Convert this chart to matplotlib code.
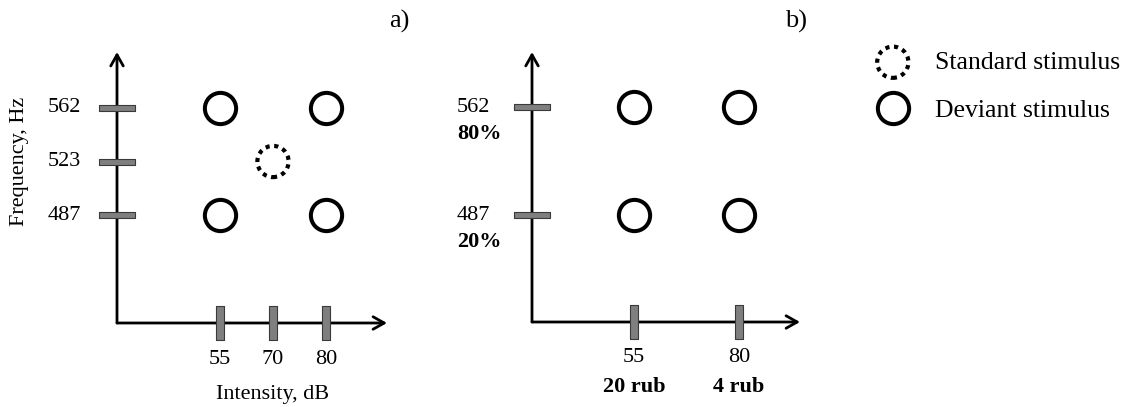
import numpy as np
import matplotlib
matplotlib.use("Agg")
import matplotlib.pyplot as plt
from matplotlib.path import Path
from matplotlib.lines import Line2D

plt.rcParams['font.family'] = ['Liberation Serif', 'DejaVu Serif']

############################## DATA

# panel a) : intensity x frequency, one standard in the middle
intensity_a = ["55", "70", "80"]
frequency_a = ["487", "523", "562"]
standard_a = [("70", "523")]
deviant_a = [("55", "487"), ("55", "562"), ("80", "487"), ("80", "562")]

# panel b) : two levels each, with price and probability under the numbers
intensity_b = ["55", "80"]
price_b = ["20 rub", "4 rub"]
frequency_b = ["487", "562"]
prob_b = ["20%", "80%"]
deviant_b = [("55", "487"), ("55", "562"), ("80", "487"), ("80", "562")]

legend_labels = ["Standard stimulus", "Deviant stimulus"]

############################## LAYOUT (pixels)

W, H = 1126, 407
fig = plt.figure(figsize=(W / 100, H / 100), dpi=100)

FS = 16
CIRCLE_MS = 22.5
CIRCLE_MEW = 2.9
dotted = (0, (1.0, 1.1))

# tick markers: flat grey rectangles
htick = Path([(-18.5, -3.5), (18.5, -3.5), (18.5, 3.5), (-18.5, 3.5), (-18.5, -3.5)],
             closed=True)
vtick = Path([(-3.5, -16.5), (3.5, -16.5), (3.5, 16.5), (-3.5, 16.5), (-3.5, -16.5)],
             closed=True)
tick_style = dict(ls="none", mfc="#7f7f7f", mec="#3a3a3a", mew=0.8, zorder=4)


def make_panel(corner, tip, xfirst, xlast, nx, yfirst, ylast, ny):
    """axes spanning from the axis corner to the arrow tips, categories on index positions"""
    cx, cy = corner
    tx, ty = tip
    ax = fig.add_axes([cx / W, 1 - cy / H, (tx - cx) / W, (cy - ty) / H])
    sx = (xlast - xfirst) / (nx - 1)
    sy = (yfirst - ylast) / (ny - 1)
    ax.set_xlim((cx - xfirst) / sx, (tx - xfirst) / sx)
    ax.set_ylim((yfirst - cy) / sy, (yfirst - ty) / sy)
    ax.axis("off")
    arrow = dict(arrowstyle="->,head_length=0.8,head_width=0.45", lw=2.0, color="black",
                 shrinkA=0, shrinkB=0)
    ax.annotate("", xy=(1, 0), xytext=(0, 0), xycoords="axes fraction", arrowprops=arrow)
    ax.annotate("", xy=(0, 1), xytext=(0, 0), xycoords="axes fraction", arrowprops=arrow)
    return ax


def xlabel_at(ax, x, text, dy, **kw):
    ax.annotate(text, xy=(x, 0), xycoords=("data", "axes fraction"), xytext=(0, dy),
                textcoords="offset pixels", ha="center", va="center", fontsize=FS, **kw)


def ylabel_at(ax, y, text, dx, dy=0, **kw):
    kw.setdefault("ha", "right")
    ax.annotate(text, xy=(0, y), xycoords=("axes fraction", "data"), xytext=(dx, dy),
                textcoords="offset pixels", va="center", fontsize=FS, **kw)


def draw_ticks(ax, nx, ny):
    xi = np.arange(nx)
    yi = np.arange(ny)
    ax.plot(xi, np.zeros_like(xi) + ax.get_ylim()[0], marker=vtick, ms=23.8, **tick_style)
    ax.plot(np.zeros_like(yi) + ax.get_xlim()[0], yi, marker=htick, ms=26.6, **tick_style)
    for ln in ax.lines:
        ln.set_clip_on(False)


def draw_deviants(ax, xs, ys, pairs):
    px = [xs.index(a) for a, b in pairs]
    py = [ys.index(b) for a, b in pairs]
    ax.plot(px, py, "o", ms=CIRCLE_MS, mfc="none", mec="black", mew=CIRCLE_MEW, zorder=3)


############################## PANEL a)

ax_a = make_panel((117, 323), (387, 52), 220, 326, len(intensity_a), 215, 108, len(frequency_a))
draw_ticks(ax_a, len(intensity_a), len(frequency_a))
draw_deviants(ax_a, intensity_a, frequency_a, deviant_a)
ax_a.scatter([intensity_a.index(a) for a, b in standard_a],
             [frequency_a.index(b) for a, b in standard_a],
             s=CIRCLE_MS ** 2, facecolors="none", edgecolors="black", linewidths=3.0,
             linestyles=[dotted], zorder=3)

for i, lab in enumerate(intensity_a):
    xlabel_at(ax_a, i, lab, -37)
xlabel_at(ax_a, 1, "Intensity, dB", -72)
for j, lab in enumerate(frequency_a):
    ylabel_at(ax_a, j, lab, -36)
ylabel_at(ax_a, 1, "Frequency, Hz", -97, ha="center", rotation=90)

############################## PANEL b)

ax_b = make_panel((532, 322), (800, 52), 634, 739, len(intensity_b), 215, 107, len(frequency_b))
draw_ticks(ax_b, len(intensity_b), len(frequency_b))
draw_deviants(ax_b, intensity_b, frequency_b, deviant_b)

for i, (lab, pr) in enumerate(zip(intensity_b, price_b)):
    xlabel_at(ax_b, i, lab, -36)
    xlabel_at(ax_b, i, pr, -65, fontweight="bold")
for j, (lab, pr) in enumerate(zip(frequency_b, prob_b)):
    ylabel_at(ax_b, j, lab, -75, ha="left")
    ylabel_at(ax_b, j, pr, -75, dy=-27, ha="left", fontweight="bold")

############################## PANEL LETTERS + LEGEND

fig.text(399 / W, 1 - 21 / H, "a)", ha="center", va="center", fontsize=19)
fig.text(796 / W, 1 - 21 / H, "b)", ha="center", va="center", fontsize=19)

h_std = ax_b.scatter([], [], s=CIRCLE_MS ** 2, facecolors="none", edgecolors="black",
                     linewidths=3.0, linestyles=[dotted])
h_dev = Line2D([], [], ls="none", marker="o", ms=CIRCLE_MS, mfc="none", mec="black",
               mew=CIRCLE_MEW)
fig.legend([h_std, h_dev], legend_labels, loc="upper left",
           bbox_to_anchor=(877 / W, 1 - 51 / H), frameon=False, fontsize=18.5,
           handlelength=1.23, handletextpad=1.03, labelspacing=0.98, borderpad=0,
           borderaxespad=0, scatterpoints=1)

fig.savefig("out.png", dpi=100)
